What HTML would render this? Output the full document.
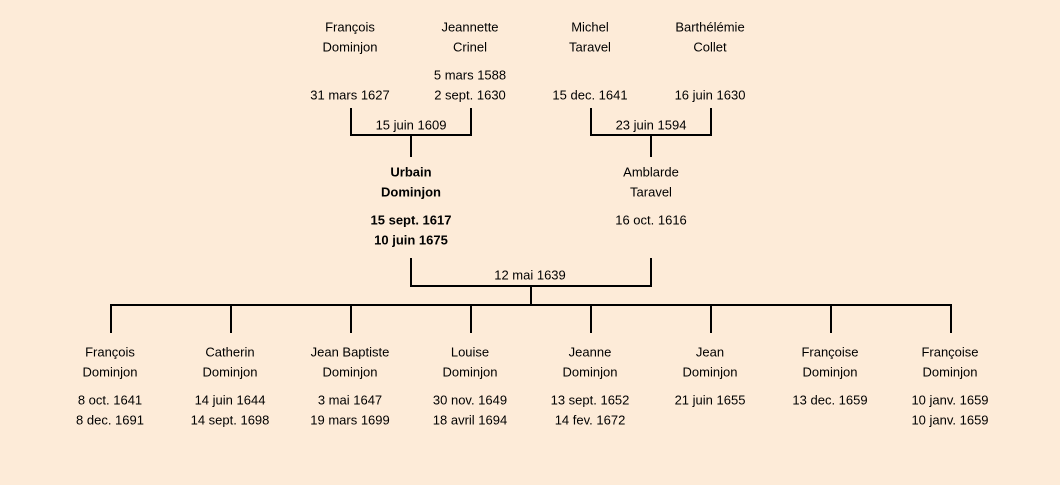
<!DOCTYPE html>
<html><head><meta charset="utf-8"><style>
html,body{margin:0;padding:0;background:#fdebd8;}
svg{display:block}
text{font-family:"Liberation Sans",sans-serif;font-size:13px;fill:#000;text-anchor:middle;dominant-baseline:central}
.b{font-weight:bold}
</style></head><body>
<svg width="1060" height="485" xmlns="http://www.w3.org/2000/svg">
<rect width="1060" height="485" fill="#fdebd8"/>
<g stroke="#000" stroke-width="2" fill="none">
<path d="M351 108V135H471V108M411 135V157"/>
<path d="M591 108V135H711V108M651 135V157"/>
<path d="M411 258V286H651V258M531 286V305"/>
<path d="M111 333V305H951V333M231 305V333M351 305V333M471 305V333M591 305V333M711 305V333M831 305V333"/>
</g>
<text x="350" y="27">François</text><text x="350" y="47">Dominjon</text><text x="350" y="95">31 mars 1627</text>
<text x="470" y="27">Jeannette</text><text x="470" y="47">Crinel</text><text x="470" y="75">5 mars 1588</text><text x="470" y="95">2 sept. 1630</text>
<text x="590" y="27">Michel</text><text x="590" y="47">Taravel</text><text x="590" y="95">15 dec. 1641</text>
<text x="710" y="27">Barthélémie</text><text x="710" y="47">Collet</text><text x="710" y="95">16 juin 1630</text>
<text x="411" y="125">15 juin 1609</text>
<text x="651" y="125">23 juin 1594</text>
<text class="b" x="411" y="172">Urbain</text><text class="b" x="411" y="192">Dominjon</text><text class="b" x="411" y="220">15 sept. 1617</text><text class="b" x="411" y="240">10 juin 1675</text>
<text x="651" y="172">Amblarde</text><text x="651" y="192">Taravel</text><text x="651" y="220">16 oct. 1616</text>
<text x="530" y="275">12 mai 1639</text>
<text x="110" y="352">François</text><text x="110" y="372">Dominjon</text><text x="110" y="400">8 oct. 1641</text><text x="110" y="420">8 dec. 1691</text>
<text x="230" y="352">Catherin</text><text x="230" y="372">Dominjon</text><text x="230" y="400">14 juin 1644</text><text x="230" y="420">14 sept. 1698</text>
<text x="350" y="352">Jean Baptiste</text><text x="350" y="372">Dominjon</text><text x="350" y="400">3 mai 1647</text><text x="350" y="420">19 mars 1699</text>
<text x="470" y="352">Louise</text><text x="470" y="372">Dominjon</text><text x="470" y="400">30 nov. 1649</text><text x="470" y="420">18 avril 1694</text>
<text x="590" y="352">Jeanne</text><text x="590" y="372">Dominjon</text><text x="590" y="400">13 sept. 1652</text><text x="590" y="420">14 fev. 1672</text>
<text x="710" y="352">Jean</text><text x="710" y="372">Dominjon</text><text x="710" y="400">21 juin 1655</text>
<text x="830" y="352">Françoise</text><text x="830" y="372">Dominjon</text><text x="830" y="400">13 dec. 1659</text>
<text x="950" y="352">Françoise</text><text x="950" y="372">Dominjon</text><text x="950" y="400">10 janv. 1659</text><text x="950" y="420">10 janv. 1659</text>
</svg>
</body></html>
